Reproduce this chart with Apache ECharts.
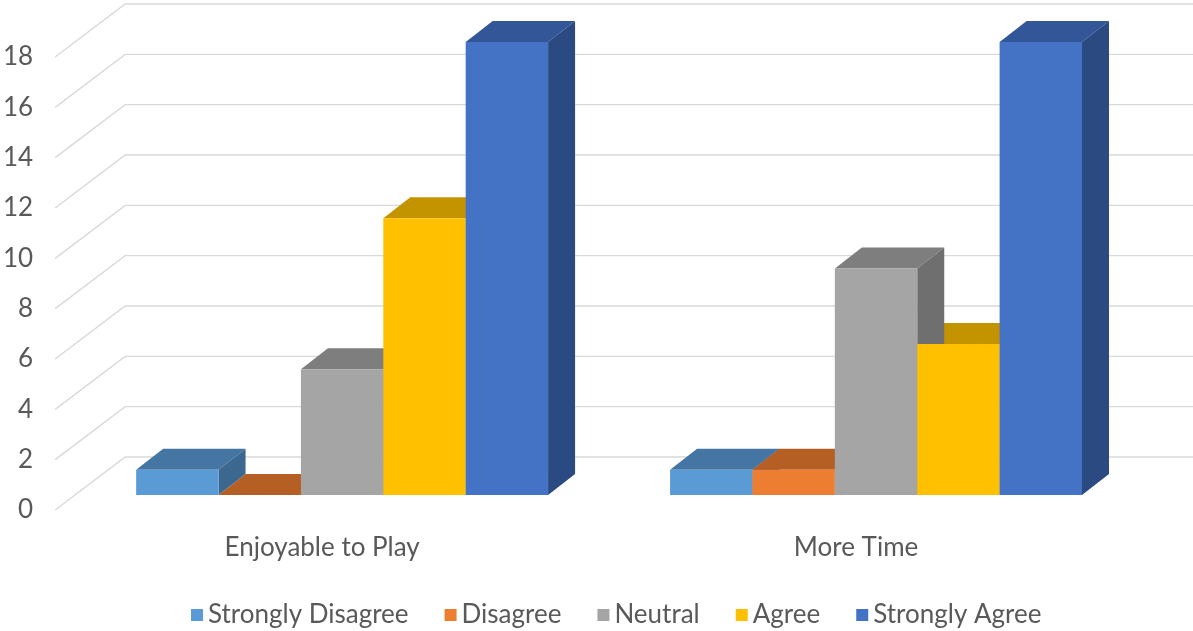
<!DOCTYPE html>
<html>
<head>
<meta charset="utf-8">
<title>Survey responses</title>
<script src="https://cdn.jsdelivr.net/npm/echarts@6.0.0/dist/echarts.min.js"></script>
<style>
  html, body { margin: 0; padding: 0; background: #fff; }
  #chart { width: 1193px; height: 631px; }
</style>
</head>
<body>
<div id="chart"></div>
<script>
const categories = ['Enjoyable to Play', 'More Time']
const seriesNames = ['Strongly Disagree', 'Disagree', 'Neutral', 'Agree', 'Strongly Agree']
const stronglyDisagree = [1, 1]
const disagree = [0, 1]
const neutral = [5, 9]
const agree = [11, 6]
const stronglyAgree = [18, 18]
const yTicks = [0, 2, 4, 6, 8, 10, 12, 14, 16, 18]

// front / top / side colours for each series
const faceColors = [
  ['#5b9bd5', '#4575a2', '#3c6890'],
  ['#ed7d31', '#b65f25', '#a3531f'],
  ['#a5a5a5', '#7e7e7e', '#6f6f6f'],
  ['#ffc000', '#c49300', '#b08400'],
  ['#4472c4', '#335699', '#2b4a82']
]
const allValues = [stronglyDisagree, disagree, neutral, agree, stronglyAgree]

// fake 3d: depth of the whole wall, offset of the bar fronts, depth of a bar
const WALL_DX = 70
const WALL_DY = -53
const FRONT_DX = 20
const FRONT_DY = -15
const BAR_DX = 27
const BAR_DY = -21
const BAR_FRAC = 0.1543

const chart = echarts.init(document.getElementById('chart'))

function renderGridLine (params, api) {
  const cs = params.coordSys
  const y = api.coord([0, api.value(1)])[1]
  const x0 = cs.x
  return {
    type: 'polyline',
    shape: {
      points: [[x0, y], [x0 + WALL_DX, y + WALL_DY], [cs.x + cs.width + WALL_DX, y + WALL_DY]]
    },
    style: { stroke: '#d9d9d9', lineWidth: 1.4, fill: null }
  }
}

function makeBarRenderer (sIdx) {
  const colors = faceColors[sIdx]
  return function (params, api) {
    const cat = api.value(0)
    const val = api.value(1)
    const base = api.coord([cat, 0])
    const top = api.coord([cat, val])
    const w = api.size([1, 0])[0] * BAR_FRAC
    const x = base[0] - 2.5 * w + sIdx * w + FRONT_DX
    const by = base[1] + FRONT_DY
    const ty = top[1] + FRONT_DY
    // side face only shows over the neighbour's top when the neighbour is lower
    const next = allValues[sIdx + 1]
    const sideZ = (next && next[cat] >= val) ? 0 : 2
    return {
      type: 'group',
      children: [
        {
          type: 'polygon',
          z2: 1,
          shape: { points: [[x, ty], [x + w, ty], [x + w + BAR_DX, ty + BAR_DY], [x + BAR_DX, ty + BAR_DY]] },
          style: { fill: colors[1] }
        },
        {
          type: 'polygon',
          z2: sideZ,
          shape: { points: [[x + w, ty], [x + w + BAR_DX, ty + BAR_DY], [x + w + BAR_DX, by + BAR_DY], [x + w, by]] },
          style: { fill: colors[2] }
        },
        {
          type: 'rect',
          z2: 3,
          shape: { x: x, y: ty, width: w, height: by - ty },
          style: { fill: colors[0] }
        }
      ]
    }
  }
}

const barSeries = seriesNames.map((name, i) => {
  return {
    type: 'custom',
    name: name,
    z: 2,
    itemStyle: { color: faceColors[i][0] },
    renderItem: makeBarRenderer(i),
    encode: { x: 0, y: 1 },
    data: allValues[i].map((v, c) => [c, v])
  }
})

const option = {
  animation: false,
  textStyle: { fontFamily: 'Lato' },
  grid: { left: 55, right: 70, top: 57, bottom: 121 },
  legend: {
    data: seriesNames,
    left: 186,
    top: 597,
    icon: 'rect',
    itemWidth: 12,
    itemHeight: 12,
    itemGap: 36,
    textStyle: { fontFamily: 'Lato', fontSize: 26, color: '#595959' }
  },
  xAxis: {
    type: 'category',
    data: categories,
    axisLine: { show: false },
    axisTick: { show: false },
    splitLine: { show: false },
    axisLabel: { fontFamily: 'Lato', fontSize: 26, color: '#595959', margin: 25 }
  },
  yAxis: {
    type: 'value',
    min: 0,
    max: 18,
    interval: 2,
    axisLine: { show: false },
    axisTick: { show: false },
    splitLine: { show: false },
    axisLabel: { fontFamily: 'Lato', fontSize: 26, color: '#595959', margin: 22 }
  },
  series: [
    {
      type: 'custom',
      name: 'gridlines',
      z: 1,
      silent: true,
      renderItem: renderGridLine,
      encode: { x: 0, y: 1 },
      data: yTicks.map(t => [0, t])
    }
  ].concat(barSeries)
}

chart.setOption(option)
</script>
</body>
</html>
